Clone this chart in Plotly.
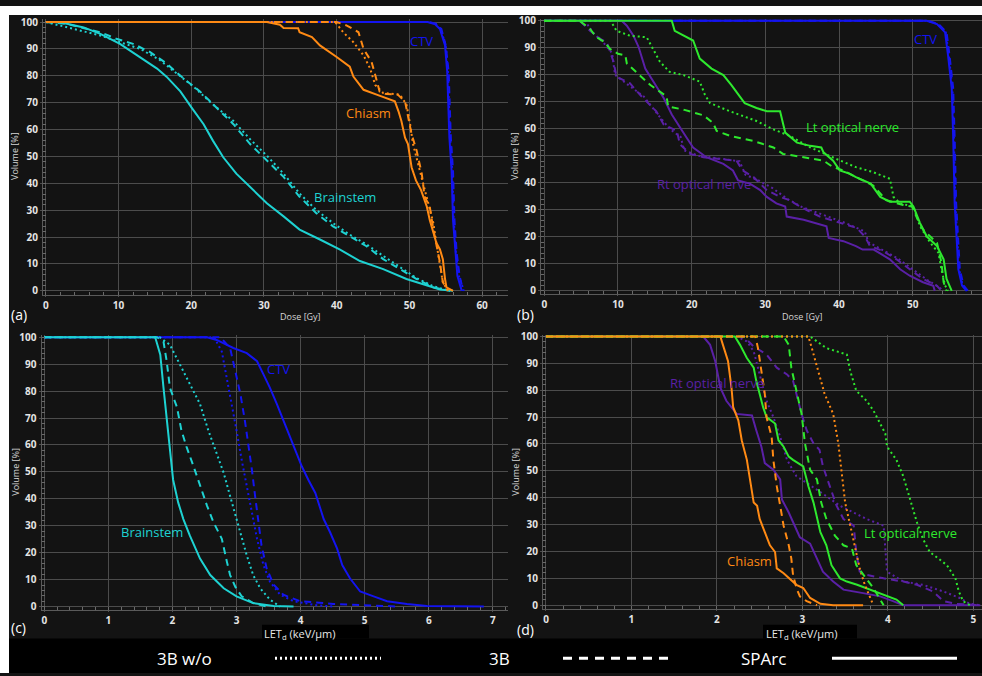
import plotly.graph_objects as go

W, H = 982, 676

# ---------------- Panel (a): dose DVH ----------------
A_CTV_SPARC_X = [0, 52.5, 53.5, 54.2, 54.9, 55.2, 55.5, 55.8, 56.0, 56.3, 56.6, 57.2]
A_CTV_SPARC_Y = [100, 100, 99.3, 97.4, 91.3, 81.5, 57, 44.8, 26.4, 14.2, 5.6, 0]
A_CTV_3B_X = [0, 52.7, 53.7, 54.4, 55.0, 55.4, 55.7, 56.0, 56.2, 56.5, 56.9, 57.4]
A_CTV_3B_Y = [100, 100, 99.3, 97.4, 91.3, 81.5, 57, 44.8, 26.4, 14.2, 5.6, 0]
A_CTV_WO_X = [0, 52.6, 53.6, 54.3, 55.0, 55.3, 55.6, 55.9, 56.1, 56.4, 56.8, 57.5]
A_CTV_WO_Y = [100, 100, 99.3, 97.4, 91.3, 81.5, 57, 44.8, 26.4, 14.2, 5.6, 0]

A_CH_SPARC_X = [0, 30.4, 32.2, 32.7, 34.7, 34.9, 36.6, 37.7, 40, 41.8, 42.3, 43.7, 45.5, 46.8, 48, 48.5, 48.9,
                49.4, 49.8, 50.3, 50.9, 51.6, 52.4, 52.8, 53.3, 53.7, 54.2, 54.6, 54.9, 55.1, 56]
A_CH_SPARC_Y = [100, 100, 99, 97.8, 97.7, 96.2, 94.4, 91.3, 87, 83.4, 79.7, 74.8, 73, 71.7, 70.5, 66.8, 63.2,
                57, 54.6, 46, 41.1, 37.5, 31.3, 26.4, 21.5, 17.9, 15.4, 11.8, 4.4, 1.3, 0]
A_CH_3B_X = [0, 40, 41.4, 43, 43.7, 44.8, 45.3, 45.9, 46.8, 48.4, 49.4, 49.8, 50.3, 51, 51.7, 52.1, 52.8, 53.3,
             53.7, 54.2, 54.6, 55.3]
A_CH_3B_Y = [100, 100, 98.7, 96.2, 90, 85.2, 80.3, 74.2, 73.2, 73, 70.5, 65.6, 58.3, 52.1, 43.6, 35, 31.3, 22.8,
             17.9, 10.5, 3.2, 0]
A_CH_WO_X = [0, 39.8, 40.9, 42.3, 43.7, 44.6, 45.3, 46.4, 48.7, 49.6, 50.1, 50.5, 51.2, 51.9, 52.6, 53.3, 53.7,
             54.2, 54.6, 55.3]
A_CH_WO_Y = [100, 100, 96.2, 92.5, 87.6, 82.7, 76.6, 73.6, 73, 69.3, 62, 54.6, 47.2, 39.9, 32.6, 25.2, 17.9,
             9.3, 3.2, 0]

A_BS_SPARC_X = [0, 2, 5.2, 7.5, 10.2, 13, 15.3, 16.6, 18.5, 20.1, 21.7, 23, 24.4, 26.2, 28.1, 30.4, 32.7, 34.9,
                37.7, 40.4, 43.2, 46.4, 49.6, 52.4, 54.2, 56]
A_BS_SPARC_Y = [100, 99.9, 98, 95.6, 91.9, 87, 82.7, 79.7, 74.2, 68, 62, 55.8, 49.7, 43.6, 38.7, 32.6, 27.7, 22.8,
                19.1, 15.4, 11.1, 8.1, 4.4, 2, 0.5, 0]
A_BS_3B_X = [0, 2.9, 7.5, 9.7, 12, 14.3, 16.6, 18.9, 21.2, 23.5, 25.8, 28.1, 30.4, 32.7, 34.9, 37.2, 39.5, 41.8,
             44.1, 46.4, 48.7, 51, 53.3, 55.6]
A_BS_3B_Y = [100, 99.3, 96.2, 93.8, 91.9, 88.9, 84.6, 79.1, 74.2, 68, 62, 54.6, 48.5, 42.4, 35, 28.9, 24, 20.3,
             16.6, 11.8, 8.1, 4.4, 1.3, 0]
A_BS_WO_X = [0, 2.9, 7.5, 10.2, 13, 15.7, 18, 20.3, 23, 25.8, 28.1, 30.4, 32.7, 34.9, 37.2, 39.5, 41.8, 44.1,
             46.4, 48.7, 51, 53.3, 55.6]
A_BS_WO_Y = [100, 98, 95, 92.5, 90, 85.8, 80.9, 76, 69.3, 63.2, 56.4, 50.3, 43.6, 36.2, 30.1, 25.2, 20.9, 17.3,
             13, 8.7, 4.7, 1.7, 0]

# ---------------- Panel (b): dose DVH ----------------
B_CTV_SPARC_X = [0, 51.9, 53.3, 54.4, 54.8, 55.3, 55.5, 55.7, 56.0, 56.2, 56.7, 57.3]
B_CTV_SPARC_Y = [100, 100, 98.8, 95.7, 87.2, 75, 56.8, 32.4, 17.8, 8, 2, 0]
B_CTV_3B_X = [0, 52.1, 53.5, 54.6, 55.0, 55.5, 55.7, 55.9, 56.2, 56.4, 56.9, 57.5]
B_CTV_3B_Y = [100, 100, 98.8, 95.7, 87.2, 75, 56.8, 32.4, 17.8, 8, 2, 0]
B_CTV_WO_X = [0, 52.0, 53.4, 54.5, 54.9, 55.4, 55.6, 55.8, 56.1, 56.3, 56.8, 57.4]
B_CTV_WO_Y = [100, 100, 98.8, 95.7, 87.2, 75, 56.8, 32.4, 17.8, 8, 2, 0]

B_LT_SPARC_X = [0, 17.3, 17.7, 18.9, 20.2, 21.1, 22.7, 24.3, 25.4, 27.2, 28.8, 30.2, 32, 32.7, 34.3, 36.1, 37.6,
                37.9, 39.2, 40.1, 41.4, 42.3, 44.3, 45.6, 46.9, 49.6, 50.1, 51, 51.9, 53.3, 54.2, 54.6, 55.1, 55.3]
B_LT_SPARC_Y = [100, 100, 96.3, 94.5, 92.7, 86, 82.3, 79.9, 76.2, 69.5, 67.7, 66.5, 66.5, 58.6, 54.9, 53.7, 53.1,
                51.3, 48.2, 44.6, 43.4, 42.1, 39.7, 34.8, 33, 33, 31.2, 25.1, 20.2, 16.6, 11.7, 4.4, 0.7, 0]
B_LT_3B_X = [0, 4.8, 6.2, 7.1, 8.2, 8.9, 10, 11, 11.2, 12.5, 14.4, 16.6, 16.8, 18.9, 21.6, 22.9, 23.4, 25.2, 28.4,
             31.1, 32.4, 35.2, 37.9, 39.2, 40.6, 42.3, 44.6, 46.4, 48.7, 49.9, 50.5, 51.4, 53.3, 53.9, 54.2, 54.6]
B_LT_3B_Y = [100, 100, 97, 93.9, 92.1, 89.6, 87.8, 87.2, 84.2, 81.1, 76.2, 72, 68.3, 67.1, 65, 62.2, 59.2, 57.4,
             55.5, 53.1, 50.7, 49.5, 48.2, 45.8, 44.6, 42.1, 39.1, 33.6, 31.8, 31.2, 27.5, 22.7, 17.8, 10.5, 3.2, 0]
B_LT_WO_X = [0, 9, 9.8, 11.6, 13.9, 14.8, 15.7, 17, 18.9, 21.1, 21.8, 22.5, 25.2, 28.8, 31.1, 33.3, 36.1, 39.7,
             42.3, 44.6, 46.9, 47.4, 48.3, 50.1, 51, 52.4, 53.5, 53.9, 54.4, 54.8]
B_LT_WO_Y = [100, 100, 96.3, 94.5, 93.9, 89.6, 84.8, 81.1, 79.9, 77.5, 72.6, 69.5, 66.5, 62.9, 59.8, 57.4, 53.1,
             48.8, 45.8, 44, 41.5, 34.8, 32.4, 31.2, 23.9, 17.8, 14.1, 8, 2, 0]

B_RT_SPARC_X = [0, 10.5, 11.2, 12.1, 12.8, 13.7, 14.8, 16.2, 17.3, 18.4, 19.3, 20.2, 22, 24.3, 25.6, 26.3, 27.9,
                29.3, 30.2, 31.5, 32.7, 32.9, 35.2, 38.3, 38.6, 40.6, 42.3, 43.2, 44.7, 46.9, 48.3, 49.6, 51.4,
                52.8, 53]
B_RT_SPARC_Y = [100, 100, 98.2, 94.5, 90.3, 82.3, 77.5, 71.4, 65.3, 60.4, 56.8, 53.1, 49.5, 47, 44.6, 40.9, 39.7,
                37.3, 34.8, 32.4, 31.2, 27.5, 26.3, 23.9, 19.6, 18.4, 16.6, 15.3, 15.3, 11.7, 8, 5.6, 3.2, 1.9, 0]
B_RT_3B_X = [0, 4.8, 6.2, 7.6, 8.5, 9.4, 9.8, 11.6, 13.4, 15.2, 16.2, 18, 18.4, 19.8, 21.6, 24.3, 26.1, 26.9,
             28.4, 30.2, 32, 33.3, 34.7, 37.4, 40.1, 42.4, 43.5, 44.2, 46, 47.8, 49.6, 51.4, 53.3, 53.9]
B_RT_3B_Y = [100, 100, 96.3, 93.3, 92, 84.8, 79.3, 76.9, 71.4, 66.5, 61.6, 59.2, 54.3, 50.7, 49.5, 48.8, 48.2,
             44.6, 42.1, 37.3, 34.8, 33.6, 31.2, 27.5, 25.1, 23.3, 20.2, 16.6, 14.7, 11.7, 8, 4.4, 1.9, 0]
B_RT_WO_X = [0, 5.5, 6.8, 8, 9.2, 9.6, 11.5, 13.5, 15.5, 17, 18.5, 19, 21, 24, 26.5, 27.3, 29, 31, 33, 35, 38,
             41, 43.5, 44, 46, 48, 50, 52, 53.5, 54.2]
B_RT_WO_Y = [100, 100, 95, 92, 88, 80, 76, 72, 65, 60, 57, 52, 50, 49, 48, 43, 41, 38, 34, 31, 28, 25, 22, 18,
             15, 12, 8, 4, 1.5, 0]

# ---------------- Panel (c): LETd VH ----------------
C_BS_SPARC_X = [0, 1.73, 1.75, 1.81, 1.86, 1.91, 1.96, 2.01, 2.09, 2.17, 2.27, 2.43, 2.59, 2.8, 3.0, 3.26, 3.58, 3.89]
C_BS_SPARC_Y = [100, 100, 98.4, 93.5, 81.3, 69.1, 56.9, 47.1, 38.6, 32.5, 26.4, 17.8, 11.7, 6.8, 3.8, 1.3, 0.2, 0]
C_BS_3B_X = [0, 1.76, 1.86, 1.91, 1.96, 2.07, 2.14, 2.22, 2.33, 2.43, 2.54, 2.64, 2.77, 2.85, 2.9, 2.98, 3.08,
             3.26, 3.47]
C_BS_3B_Y = [100, 100, 98.4, 91.1, 81.3, 74, 65.4, 59.3, 52, 44.7, 37.4, 31.3, 25.2, 16.6, 11.7, 7.4, 3.8, 1.3, 0]
C_BS_WO_X = [0, 1.8, 1.96, 2.12, 2.27, 2.43, 2.56, 2.69, 2.8, 2.9, 3.0, 3.08, 3.16, 3.26, 3.37, 3.52, 3.68]
C_BS_WO_Y = [100, 100, 97.2, 89.9, 82.5, 75.2, 65.4, 56.9, 49.6, 41, 32.5, 25.2, 19, 11.7, 6.8, 2.6, 0]
C_CTV_SPARC_X = [0, 2.54, 2.69, 2.85, 2.95, 3.16, 3.32, 3.42, 3.52, 3.63, 3.73, 3.84, 3.89, 4.02, 4.12, 4.23, 4.36,
                 4.46, 4.57, 4.65, 4.77, 4.93, 5.14, 5.35, 5.66, 5.97, 6.86]
C_CTV_SPARC_Y = [100, 100, 99, 97.2, 96, 94.1, 91.1, 86.2, 81.3, 75.2, 69.1, 63, 59.3, 52, 47.1, 42.2, 32.5,
                 27.6, 21.5, 15.4, 10.5, 5.6, 3.8, 2, 1, 0.2, 0]
C_CTV_3B_X = [0, 2.75, 2.9, 2.98, 3.06, 3.13, 3.19, 3.24, 3.29, 3.34, 3.39, 3.47, 3.58, 3.73, 3.99, 4.51, 5.55]
C_CTV_3B_Y = [100, 100, 96, 87.4, 78.9, 69.1, 59.3, 50.8, 41, 32.5, 22.7, 14.2, 8.1, 4.4, 2, 1, 0]
C_CTV_WO_X = [0, 2.65, 2.77, 2.85, 2.93, 3.0, 3.08, 3.16, 3.24, 3.32, 3.42, 3.52, 3.68, 3.89, 4.25, 4.51]
C_CTV_WO_Y = [100, 100, 94.7, 85, 75.2, 65.4, 54.5, 44.7, 34.9, 25.2, 15.4, 9.3, 4.4, 2, 0.5, 0]

# ---------------- Panel (d): LETd VH ----------------
D_CH_SPARC_X = [0, 2.04, 2.07, 2.13, 2.17, 2.19, 2.25, 2.29, 2.35, 2.39, 2.43, 2.47, 2.5, 2.56, 2.62, 2.68, 2.7,
                2.78, 2.85, 2.93, 3.01, 3.09, 3.21, 3.36, 3.71]
D_CH_SPARC_Y = [100, 100, 96.9, 90.8, 81, 73.7, 68.8, 61.4, 54.1, 45.5, 38.2, 37, 32.1, 27.2, 22.3, 19.8, 13.7,
                11.9, 10, 7.6, 6.4, 2.7, 0.5, 0, 0]
D_CH_3B_X = [0, 2.45, 2.48, 2.52, 2.56, 2.58, 2.64, 2.66, 2.7, 2.74, 2.78, 2.84, 2.87, 2.89, 2.93, 2.97, 3.05, 3.17]
D_CH_3B_Y = [100, 100, 95.7, 87.1, 78.6, 70, 62.7, 54.1, 44.3, 37, 29.6, 22.3, 17.4, 11.3, 6.4, 3.3, 1.5, 0]
D_CH_WO_X = [0, 3.07, 3.11, 3.19, 3.26, 3.36, 3.42, 3.46, 3.5, 3.56, 3.62, 3.67, 3.73, 3.79, 3.83]
D_CH_WO_Y = [100, 100, 95.7, 87.1, 78.6, 71.2, 60.2, 49.2, 38.2, 29.6, 21.1, 13.7, 7.6, 2.7, 0]
D_RT_SPARC_X = [0, 1.84, 1.92, 1.98, 2.04, 2.11, 2.23, 2.41, 2.46, 2.52, 2.56, 2.66, 2.74, 2.76, 2.84, 2.91, 2.97,
                3.09, 3.17, 3.24, 3.36, 3.48, 3.71, 3.91, 4.06, 4.18, 5.08]
D_RT_SPARC_Y = [100, 100, 96.9, 90.8, 81, 76.1, 71.2, 70.6, 65.1, 59, 52.9, 50.4, 46.8, 39.4, 34.5, 29.6, 25.3,
                22.9, 17.4, 12.5, 8.8, 5.8, 4.5, 3.3, 1.5, 0, 0]
D_RT_3B_X = [0, 2.31, 2.43, 2.58, 2.7, 2.82, 2.89, 2.95, 2.99, 3.05, 3.13, 3.2, 3.24, 3.32, 3.4, 3.48, 3.6, 3.63,
             3.67, 3.75, 3.95, 4.18, 4.34, 4.53, 4.65, 4.8, 5.08]
D_RT_3B_Y = [100, 100, 96.3, 93.3, 88.4, 85.9, 83.5, 76.1, 71.2, 65.1, 60.2, 57.8, 51.7, 44.3, 37, 32.1, 29.6,
             19.8, 12.5, 11.3, 10, 8.8, 7.6, 5.1, 1.5, 0.5, 0]
D_RT_WO_X = [0, 2.23, 2.35, 2.43, 2.5, 2.58, 2.66, 2.74, 2.82, 2.93, 3.05, 3.17, 3.28, 3.44, 3.6, 3.75, 3.95, 3.97,
             3.99, 4.18, 4.41, 4.65, 4.84, 4.96, 5.08]
D_RT_WO_Y = [100, 100, 98.2, 94.5, 85.9, 76.1, 70, 62.7, 54.1, 48, 45.5, 43.1, 40.6, 37, 34.5, 32.1, 29.6, 19.8,
             12.5, 8.8, 7.6, 5.1, 2.7, 0.5, 0]
D_LT_SPARC_X = [0, 2.21, 2.27, 2.35, 2.43, 2.46, 2.5, 2.54, 2.58, 2.68, 2.72, 2.78, 2.84, 2.89, 3.01, 3.07, 3.13,
                3.21, 3.28, 3.34, 3.44, 3.52, 3.64, 3.79, 3.95, 4.1, 4.18]
D_LT_SPARC_Y = [100, 100, 96.9, 92, 88.4, 83.5, 78.6, 73.7, 70, 67.6, 61.4, 59, 55.3, 54.1, 51.7, 44.3, 38.2,
                27.2, 22.3, 14.9, 10, 8.8, 7.6, 5.8, 3.9, 2.1, 0]
D_LT_3B_X = [0, 2.78, 2.84, 2.87, 2.93, 2.99, 3.03, 3.09, 3.17, 3.22, 3.28, 3.38, 3.48, 3.58, 3.63, 3.75, 3.83,
             3.91, 3.95]
D_LT_3B_Y = [100, 100, 96.9, 88.4, 79.8, 71.2, 60.2, 50.4, 46.8, 38.2, 32.1, 25.9, 22.3, 21.1, 14.9, 10, 6.4, 2.1, 0]
D_LT_WO_X = [0, 3.09, 3.17, 3.28, 3.52, 3.56, 3.63, 3.75, 3.83, 3.91, 3.97, 3.99, 4.1, 4.18, 4.26, 4.34, 4.41,
             4.49, 4.59, 4.69, 4.79, 4.83, 4.88, 4.96]
D_LT_WO_Y = [100, 100, 98.2, 95.7, 93.3, 87.1, 79.8, 76.1, 72.5, 67.6, 63.9, 59, 54.1, 48, 39.4, 30.8, 24.7, 19.8,
             17.4, 14.9, 10, 5.1, 1.5, 0]

LEGEND_LABELS = ["3B w/o", "3B", "SPArc"]
PANEL_LABELS = ["(a)", "(b)", "(c)", "(d)"]

C_CTV = "#1414f0"
C_CYAN = "#1ed2d2"
C_ORANGE = "#ff8a14"
C_GREEN = "#2ee82e"
C_PURPLE = "#5a20a6"

DASH = {"wo": "2px,3px", "3b": "7px,5px", "sparc": "solid"}

fig = go.Figure()


def fx(px):
    return px / W


def fy(py):
    return 1 - py / H


def add(xs, ys, color, style, ax, width=2):
    fig.add_trace(go.Scatter(x=xs, y=ys, mode="lines", xaxis="x" + ax, yaxis="y" + ax,
                             line=dict(color=color, width=width, dash=DASH[style]),
                             showlegend=False, hoverinfo="skip"))


# panel a
add(A_CTV_WO_X, A_CTV_WO_Y, C_CTV, "wo", "")
add(A_CTV_3B_X, A_CTV_3B_Y, C_CTV, "3b", "")
add(A_CTV_SPARC_X, A_CTV_SPARC_Y, C_CTV, "sparc", "")
add(A_BS_WO_X, A_BS_WO_Y, C_CYAN, "wo", "")
add(A_BS_3B_X, A_BS_3B_Y, C_CYAN, "3b", "")
add(A_BS_SPARC_X, A_BS_SPARC_Y, C_CYAN, "sparc", "")
add(A_CH_WO_X, A_CH_WO_Y, C_ORANGE, "wo", "")
add(A_CH_SPARC_X, A_CH_SPARC_Y, C_ORANGE, "sparc", "")
add(A_CH_3B_X, A_CH_3B_Y, C_ORANGE, "3b", "")
# panel b
add(B_CTV_WO_X, B_CTV_WO_Y, C_CTV, "wo", "2")
add(B_CTV_3B_X, B_CTV_3B_Y, C_CTV, "3b", "2")
add(B_CTV_SPARC_X, B_CTV_SPARC_Y, C_CTV, "sparc", "2")
add(B_RT_WO_X, B_RT_WO_Y, C_PURPLE, "wo", "2")
add(B_RT_3B_X, B_RT_3B_Y, C_PURPLE, "3b", "2")
add(B_RT_SPARC_X, B_RT_SPARC_Y, C_PURPLE, "sparc", "2")
add(B_LT_WO_X, B_LT_WO_Y, C_GREEN, "wo", "2")
add(B_LT_3B_X, B_LT_3B_Y, C_GREEN, "3b", "2")
add(B_LT_SPARC_X, B_LT_SPARC_Y, C_GREEN, "sparc", "2")
# panel c
add(C_CTV_WO_X, C_CTV_WO_Y, C_CTV, "wo", "3")
add(C_CTV_3B_X, C_CTV_3B_Y, C_CTV, "3b", "3")
add(C_CTV_SPARC_X, C_CTV_SPARC_Y, C_CTV, "sparc", "3")
add(C_BS_WO_X, C_BS_WO_Y, C_CYAN, "wo", "3")
add(C_BS_SPARC_X, C_BS_SPARC_Y, C_CYAN, "sparc", "3")
add(C_BS_3B_X, C_BS_3B_Y, C_CYAN, "3b", "3")
# panel d
add(D_RT_WO_X, D_RT_WO_Y, C_PURPLE, "wo", "4")
add(D_RT_3B_X, D_RT_3B_Y, C_PURPLE, "3b", "4")
add(D_RT_SPARC_X, D_RT_SPARC_Y, C_PURPLE, "sparc", "4")
add(D_LT_WO_X, D_LT_WO_Y, C_GREEN, "wo", "4")
add(D_LT_SPARC_X, D_LT_SPARC_Y, C_GREEN, "sparc", "4")
add(D_CH_WO_X, D_CH_WO_Y, C_ORANGE, "wo", "4")
add(D_CH_SPARC_X, D_CH_SPARC_Y, C_ORANGE, "sparc", "4")
add(D_LT_3B_X, D_LT_3B_Y, C_GREEN, "3b", "4")
add(D_CH_3B_X, D_CH_3B_Y, C_ORANGE, "3b", "4")

GRID = "#4c4c4c"
TICKFONT = dict(family="Open Sans, sans-serif", size=10, color="#e4e4e4", weight="bold")


def xax(left, right, rng, dtick, minor):
    return dict(domain=[fx(left), fx(right)], range=rng, dtick=dtick, tick0=0, showgrid=True,
                gridcolor=GRID, gridwidth=1, zeroline=False, showline=True, linecolor="#5a5a5a",
                linewidth=1, ticks="outside", ticklen=1, tickcolor=GRID, tickfont=TICKFONT,
                minor=dict(ticks="inside", ticklen=3, dtick=minor, tickcolor="#6a6a6a", showgrid=False),
                fixedrange=True)


def yax(top, bottom, rng, anchor):
    return dict(domain=[fy(bottom), fy(top)], range=rng, dtick=10, tick0=0, showgrid=True,
                gridcolor=GRID, gridwidth=1, zeroline=False, showline=True, linecolor="#5a5a5a",
                linewidth=1, ticks="outside", ticklen=2, tickcolor=GRID, tickfont=TICKFONT,
                minor=dict(ticks="inside", ticklen=3, dtick=2, tickcolor="#6a6a6a", showgrid=False),
                anchor=anchor, fixedrange=True)


xa = xax(43, 508, [-0.385, 63.56], 10, 2); xa["anchor"] = "y"
xb = xax(541, 982, [-0.45, 59.41], 10, 2); xb["anchor"] = "y2"
xc = xax(41.5, 508, [-0.044, 7.237], 1, 0.2); xc["anchor"] = "y3"
xd = xax(543, 982, [-0.035, 5.101], 1, 0.2); xd["anchor"] = "y4"

fig.update_layout(
    width=W, height=H, margin=dict(l=0, r=0, t=0, b=0),
    paper_bgcolor="#131313", plot_bgcolor="#131313",
    xaxis=xa, xaxis2=xb, xaxis3=xc, xaxis4=xd,
    yaxis=yax(13, 293, [-1.58, 101.2], "x"),
    yaxis2=yax(13, 292, [-1.2, 100.73], "x2"),
    yaxis3=yax(333, 612, [-1.21, 100.99], "x3"),
    yaxis4=yax(333, 611, [-1.36, 100.73], "x4"),
    showlegend=False,
)

shapes = []
# white borders top/left, black legend strip and label boxes
shapes.append(dict(type="rect", xref="paper", yref="paper", x0=0, x1=1, y0=fy(9), y1=1,
                   fillcolor="white", line=dict(width=0), layer="above"))
shapes.append(dict(type="rect", xref="paper", yref="paper", x0=0, x1=fx(9), y0=0, y1=1,
                   fillcolor="white", line=dict(width=0), layer="above"))
shapes.append(dict(type="rect", xref="paper", yref="paper", x0=fx(9), x1=1, y0=0, y1=fy(641),
                   fillcolor="black", line=dict(width=0), layer="below"))
shapes.append(dict(type="rect", xref="paper", yref="paper", x0=fx(262), x1=fx(369), y0=fy(641), y1=fy(627),
                   fillcolor="black", line=dict(width=0), layer="below"))
shapes.append(dict(type="rect", xref="paper", yref="paper", x0=fx(763), x1=fx(857), y0=fy(641), y1=fy(627),
                   fillcolor="black", line=dict(width=0), layer="below"))
# legend samples
for (x0, x1), dash, lw in [((275, 381), "2px,3px", 3), ((563, 669), "9px,7px", 3), ((832, 957), "solid", 3)]:
    shapes.append(dict(type="line", xref="paper", yref="paper", x0=fx(x0), x1=fx(x1), y0=fy(661), y1=fy(661),
                       line=dict(color="white", width=lw, dash=dash)))
fig.update_layout(shapes=shapes)

ann = []
LF = "Open Sans, sans-serif"


def lab(text, x, y, color, ax):
    ann.append(dict(text=text, x=x, y=y, xref="x" + ax, yref="y" + ax, showarrow=False,
                    font=dict(family=LF, size=13, color=color), xanchor="center", yanchor="middle"))


lab("CTV", 51.7, 93.1, C_CTV, "")
lab("Chiasm", 44.4, 66.3, C_ORANGE, "")
lab("Brainstem", 41.1, 35.1, C_CYAN, "")
lab("CTV", 51.7, 93.4, C_CTV, "2")
lab("Lt optical nerve", 41.8, 60.5, C_GREEN, "2")
lab("Rt optical nerve", 21.7, 39.7, C_PURPLE, "2")
lab("CTV", 3.65, 88.2, C_CTV, "3")
lab("Brainstem", 1.68, 27.7, C_CYAN, "3")
lab("Rt optical nerve", 2.0, 82.7, C_PURPLE, "4")
lab("Lt optical nerve", 4.26, 26.9, C_GREEN, "4")
lab("Chiasm", 2.38, 16.6, C_ORANGE, "4")


def ptext(text, px, py, size, color="white", angle=0, anchor="center"):
    ann.append(dict(text=text, x=fx(px), y=fy(py), xref="paper", yref="paper", showarrow=False,
                    textangle=angle, font=dict(family=LF, size=size, color=color),
                    xanchor=anchor, yanchor="middle"))


# panel letters
ptext(PANEL_LABELS[0], 9, 313, 14, anchor="left")
ptext(PANEL_LABELS[1], 515, 313, 14, anchor="left")
ptext(PANEL_LABELS[2], 9, 630, 14, anchor="left")
ptext(PANEL_LABELS[3], 515, 632, 14, anchor="left")
# axis titles
ptext("Dose [Gy]", 300, 315, 9, color="#d6d6d6")
ptext("Dose [Gy]", 802, 315, 9, color="#d6d6d6")
ptext("LET<sub>d</sub> (keV/µm)", 300, 636, 11, color="#e8e8e8")
ptext("LET<sub>d</sub> (keV/µm)", 802, 636, 11, color="#e8e8e8")
ptext("Volume [%]", 15, 152, 9, color="#d6d6d6", angle=-90)
ptext("Volume [%]", 515, 152, 9, color="#d6d6d6", angle=-90)
ptext("Volume [%]", 16, 472, 9, color="#d6d6d6", angle=-90)
ptext("Volume [%]", 516, 472, 9, color="#d6d6d6", angle=-90)
# legend
ptext(LEGEND_LABELS[0], 184, 661, 17)
ptext(LEGEND_LABELS[1], 499, 661, 17)
ptext(LEGEND_LABELS[2], 763, 661, 17)

fig.update_layout(annotations=ann)
fig.write_html("out.html", config={"displayModeBar": False},
               post_script="document.body.style.margin='0px';"
               "document.body.style.overflow='hidden';")
